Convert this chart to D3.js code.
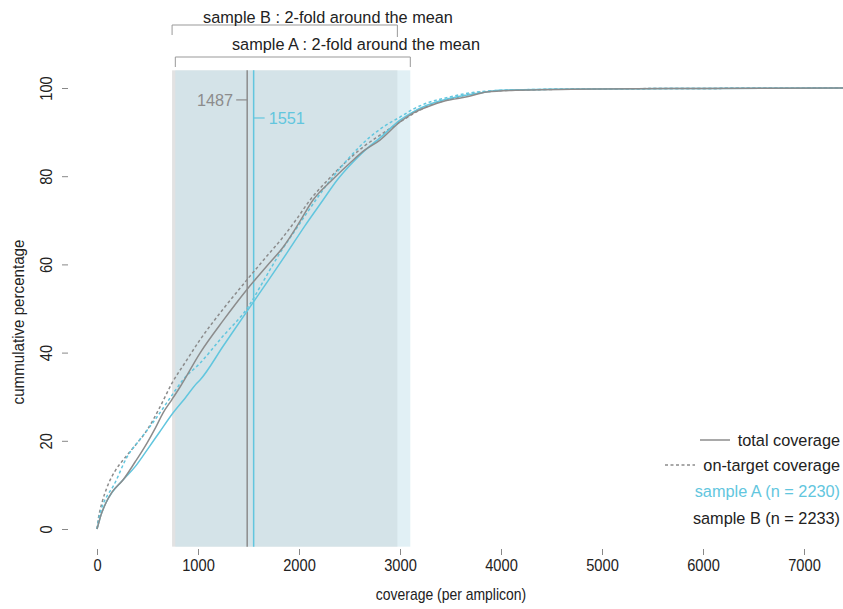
<!DOCTYPE html>
<html><head><meta charset="utf-8">
<script src="https://cdn.jsdelivr.net/npm/d3@7"></script>
<style>
body{margin:0;background:#fff;}
text{font-family:"Liberation Sans",Arial,Helvetica,sans-serif;}
</style></head>
<body><svg id="c" width="843" height="609"></svg>
<script>
// ---- data ----
const xTicks = [0,1000,2000,3000,4000,5000,6000,7000];
const yTicks = [0,20,40,60,80,100];
const meanA = 1551;   // sample A mean
const meanB = 1487;   // sample B mean
const sampleLabels = ["sample A (n = 2230)","sample B (n = 2233)"];
const legendLabels = ["total coverage","on-target coverage"];

// cumulative curves [coverage, percentage]
const totalA = [[0,0],[10,0.8],[40,3.2],[90,6],[150,8.3],[257,11.1],[380,14.2],[495,17.9],[620,22],[752,26.3],[870,29.6],[990,33.1],[1020,33.8],[1250,41.5],[1495,49.7],[1700,56.5],[1881,62.6],[2060,68.8],[2238,74.6],[2380,79.2],[2505,82.5],[2650,85.8],[2802,88.7],[3000,92.7],[3130,94.6],[3267,96.1],[3450,97.4],[3663,98.4],[3850,99.1],[3990,99.5],[4500,99.7],[4980,99.8],[6000,99.9],[7500,100]];
const onTargetA = [[0,0],[15,2],[50,5],[100,7.5],[158,9.6],[297,16.3],[450,21],[594,25.4],[720,29.6],[851,33.8],[1020,37.6],[1250,43.8],[1495,50.3],[1650,56.3],[1812,62.6],[1950,67.3],[2079,71.7],[2290,78.5],[2505,84.4],[2703,88.9],[2850,91.4],[3000,93.4],[3130,95.2],[3267,96.6],[3480,97.9],[3693,98.9],[3861,99.3],[4200,99.6],[5000,99.8],[6000,99.9],[7500,100]];
const totalB = [[0,0],[10,0.8],[40,3.2],[90,6],[150,8.4],[257,11.1],[380,15.3],[495,19.5],[580,23],[653,26.3],[740,29.3],[822,32.2],[1020,39.9],[1250,47.3],[1495,54.6],[1680,59.6],[1842,63.9],[2000,69.4],[2139,74.6],[2330,79.2],[2505,83],[2650,85.9],[2802,88.2],[3000,92.3],[3130,94.3],[3267,95.7],[3450,97.1],[3663,98],[3861,99.1],[4158,99.5],[4980,99.8],[6000,99.9],[7500,100]];
const onTargetB = [[0,0],[15,2.5],[50,6],[100,9.5],[180,13.2],[257,15.6],[380,19],[495,22.4],[620,27.5],[743,33.1],[880,38],[1020,42.9],[1250,49.9],[1485,56.5],[1660,61.3],[1842,66.2],[1980,70.4],[2109,74.6],[2300,79.5],[2505,84.1],[2650,86.9],[2802,89.3],[3000,92.3],[3150,94.4],[3297,96.1],[3500,97.5],[3693,98.6],[3990,99.4],[4980,99.8],[6000,99.9],[7500,100]];

// ---- drawing ----
const svg = d3.select("#c");
const x = d3.scaleLinear().domain([0,7000]).range([97,804]);
const y = d3.scaleLinear().domain([0,100]).range([529,88]);
const grayC = "#8c8c8c", blueC = "#62c6de", txtC = "#222";
const yTop = y(104), yBot = y(-4);
const annSize = 16.3, axSize = 17;

svg.append("defs").append("clipPath").attr("id","clip")
  .append("rect").attr("x",0).attr("y",yTop).attr("width",843).attr("height",yBot-yTop);

// shaded 2-fold bands
svg.append("rect").attr("x",x(meanB/2)).attr("width",x(meanB*2)-x(meanB/2))
  .attr("y",yTop).attr("height",yBot-yTop).attr("fill","#e2e2e2");
svg.append("rect").attr("x",x(meanA/2)).attr("width",x(meanA*2)-x(meanA/2))
  .attr("y",yTop).attr("height",yBot-yTop).attr("fill","#c8e3ec").attr("fill-opacity",0.55);

// brackets
function bracket(lo,hi,yy,dl,dr){
  svg.append("path").attr("d",`M${x(lo)},${yy+dl}V${yy}H${x(hi)}V${yy+dr}`)
    .attr("fill","none").attr("stroke","#999").attr("stroke-width",1);
}
bracket(meanB/2, meanB*2, 25, 10, 12);
bracket(meanA/2, meanA*2, 57, 10, 10);
svg.append("text").attr("x",x(2287)).attr("y",23).attr("text-anchor","middle")
  .attr("font-size",annSize).attr("fill",txtC).text("sample B : 2-fold around the mean");
svg.append("text").attr("x",x(2564)).attr("y",50).attr("text-anchor","middle")
  .attr("font-size",annSize).attr("fill",txtC).text("sample A : 2-fold around the mean");

// mean lines
svg.append("line").attr("x1",x(meanB)).attr("x2",x(meanB)).attr("y1",yTop).attr("y2",yBot)
  .attr("stroke",grayC).attr("stroke-width",1.5);
svg.append("line").attr("x1",x(meanA)).attr("x2",x(meanA)).attr("y1",yTop).attr("y2",yBot)
  .attr("stroke",blueC).attr("stroke-width",1.5);
svg.append("line").attr("x1",x(meanB)-11).attr("x2",x(meanB)).attr("y1",y(97.3)).attr("y2",y(97.3))
  .attr("stroke",grayC).attr("stroke-width",1.2);
svg.append("text").attr("x",x(meanB)-14).attr("y",y(97.3)+6).attr("text-anchor","end")
  .attr("font-size",annSize).attr("fill",grayC).text(meanB);
svg.append("line").attr("x1",x(meanA)).attr("x2",x(meanA)+11).attr("y1",y(93.2)).attr("y2",y(93.2))
  .attr("stroke",blueC).attr("stroke-width",1.2);
svg.append("text").attr("x",x(meanA)+15).attr("y",y(93.2)+6).attr("text-anchor","start")
  .attr("font-size",annSize).attr("fill",blueC).text(meanA);

// curves
const line = d3.line().curve(d3.curveMonotoneX).x(d=>x(d[0])).y(d=>y(d[1]));
const g = svg.append("g").attr("clip-path","url(#clip)");
[[onTargetB,grayC,"3,2.5"],[onTargetA,blueC,"3,2.5"],[totalA,blueC,null],[totalB,grayC,null]].forEach(([d,c,da])=>{
  g.append("path").datum(d).attr("d",line).attr("fill","none").attr("stroke",c)
   .attr("stroke-width",1.5).attr("stroke-dasharray",da);
});

// condensed look for axis text (Helvetica-narrow style), keeping real text
function condense(sel, f){
  sel.each(function(){
    const L = this.getComputedTextLength();
    d3.select(this).attr("textLength", L*f).attr("lengthAdjust","spacingAndGlyphs");
  });
}

// axes
const xa = svg.append("g").attr("transform","translate(0,549)")
  .call(d3.axisBottom(x).tickValues(xTicks).tickSize(6).tickPadding(4).tickFormat(d3.format("d")));
xa.select(".domain").remove();
xa.selectAll("line").attr("stroke","#888");
xa.selectAll("text").attr("font-size",axSize).attr("fill",txtC).attr("font-family",null).call(condense,0.86);

const ya = svg.append("g").attr("transform","translate(68,0)")
  .call(d3.axisLeft(y).tickValues(yTicks).tickSize(6).tickFormat(d3.format("d")));
ya.select(".domain").remove();
ya.selectAll("line").attr("stroke","#888");
ya.selectAll("text").attr("x",null).attr("dy",null).attr("y",0)
  .attr("text-anchor","middle").attr("transform","translate(-16,0) rotate(-90)")
  .attr("font-size",axSize).attr("fill",txtC).attr("font-family",null).call(condense,0.86);

svg.append("text").attr("x",451).attr("y",600).attr("text-anchor","middle")
  .attr("font-size",axSize).attr("fill",txtC).text("coverage (per amplicon)").call(condense,0.82);
svg.append("text").attr("transform","translate(24,322) rotate(-90)").attr("text-anchor","middle")
  .attr("font-size",axSize).attr("fill",txtC).text("cummulative percentage").call(condense,0.89);

// legend
const lg = svg.append("g");
lg.append("line").attr("x1",700).attr("x2",730).attr("y1",440).attr("y2",440).attr("stroke",grayC).attr("stroke-width",1.5);
lg.append("line").attr("x1",665).attr("x2",695).attr("y1",465).attr("y2",465).attr("stroke",grayC).attr("stroke-width",1.5).attr("stroke-dasharray","3,2.5");
const legRows = [[legendLabels[0],txtC,446],[legendLabels[1],txtC,471],[sampleLabels[0],blueC,497],[sampleLabels[1],txtC,524]];
legRows.forEach(([t,c,yy])=>{
  lg.append("text").attr("x",840).attr("y",yy).attr("text-anchor","end")
    .attr("font-size",annSize).attr("fill",c).text(t);
});
</script></body></html>
